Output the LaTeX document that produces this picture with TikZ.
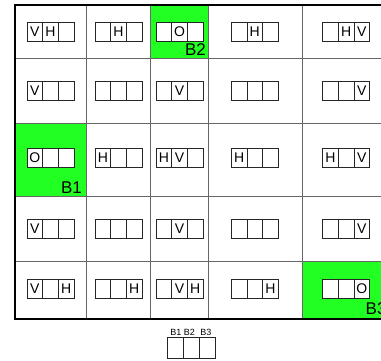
\documentclass[tikz,border=0pt]{standalone}
\usepackage{fontspec}
\setmainfont{Liberation Sans}
\definecolor{hl}{RGB}{34,255,34}
\newcommand\trip[6]{%
  \node[cellbox] (#1-1) at (#2,#3) {#4};
  \node[cellbox] (#1-2) at (#2+15.6,#3) {#5};
  \node[cellbox] (#1-3) at (#2+31.2,#3) {#6};}
\begin{document}
\begin{tikzpicture}[x=1pt,y=-1pt,
  gridline/.style={draw=black!60, line width=0.9pt},
  cellbox/.style={draw=black!85, fill=white, line width=0.8pt, minimum width=15.6pt, minimum height=19pt,
    inner sep=0pt, text height=10pt, text depth=0pt, font=\fontsize{14}{14}\selectfont, anchor=north west},
  blabel/.style={font=\fontsize{17}{17}\selectfont, inner sep=0pt},
  leglabel/.style={font=\fontsize{9}{9}\selectfont, inner sep=0pt, anchor=base},
  legbox/.style={draw=black!85, fill=white, line width=0.8pt, minimum width=16pt, minimum height=21pt, inner sep=0pt, anchor=north west}]
\useasboundingbox (0,0) rectangle (381,360);
\clip (0,0) rectangle (381,360);
% green cells
\fill[hl] (150,5) rectangle (208,58);
\fill[hl] (15,123) rectangle (86,196);
\fill[hl] (302,261) rectangle (389,319);
% inner grid
\foreach \x in {86,150,208,302} \draw[gridline] (\x,5) -- (\x,319);
\foreach \y in {58,123,196,261} \draw[gridline] (15,\y) -- (389,\y);
\draw[line width=2pt] (15,5) rectangle (389,319);
% row 1
\trip{a1}{26.7}{21.7}{V}{H}{}
\trip{a2}{94.7}{21.7}{}{H}{}
\trip{a3}{155.7}{21.7}{}{O}{}
\trip{a4}{231}{21.7}{}{H}{}
\trip{a5}{322.3}{21.7}{}{H}{V}
% row 2
\trip{b1}{26.7}{80.7}{V}{}{}
\trip{b2}{94.7}{80.7}{}{}{}
\trip{b3}{155.7}{80.7}{}{V}{}
\trip{b4}{231}{80.7}{}{}{}
\trip{b5}{322.3}{80.7}{}{}{V}
% row 3
\trip{c1}{26.7}{147.7}{O}{}{}
\trip{c2}{94.7}{147.7}{H}{}{}
\trip{c3}{155.7}{147.7}{H}{V}{}
\trip{c4}{231}{147.7}{H}{}{}
\trip{c5}{322.3}{147.7}{H}{}{V}
% row 4
\trip{d1}{26.7}{218.5}{V}{}{}
\trip{d2}{94.7}{218.5}{}{}{}
\trip{d3}{155.7}{218.5}{}{V}{}
\trip{d4}{231}{218.5}{}{}{}
\trip{d5}{322.3}{218.5}{}{}{V}
% row 5
\trip{e1}{26.7}{279}{V}{}{H}
\trip{e2}{94.7}{279}{}{}{H}
\trip{e3}{155.7}{279}{}{V}{H}
\trip{e4}{231}{279}{}{}{H}
\trip{e5}{322.3}{279}{}{}{O}
% block labels
\node[blabel, anchor=base east] (lb1) at (82,193) {B1};
\node[blabel, anchor=base east] (lb2) at (206,55) {B2};
\node[blabel, anchor=base west] (lb3) at (365.5,314) {B3};
% legend
\node[legbox] (g1) at (167.3,336.7) {};
\node[legbox] (g2) at (183.3,336.7) {};
\node[legbox] (g3) at (199.3,336.7) {};
\node[leglabel] (t1) at (175.8,335.3) {B1};
\node[leglabel] (t2) at (189.4,335.3) {B2};
\node[leglabel] (t3) at (205.8,335.3) {B3};
\end{tikzpicture}
\end{document}
